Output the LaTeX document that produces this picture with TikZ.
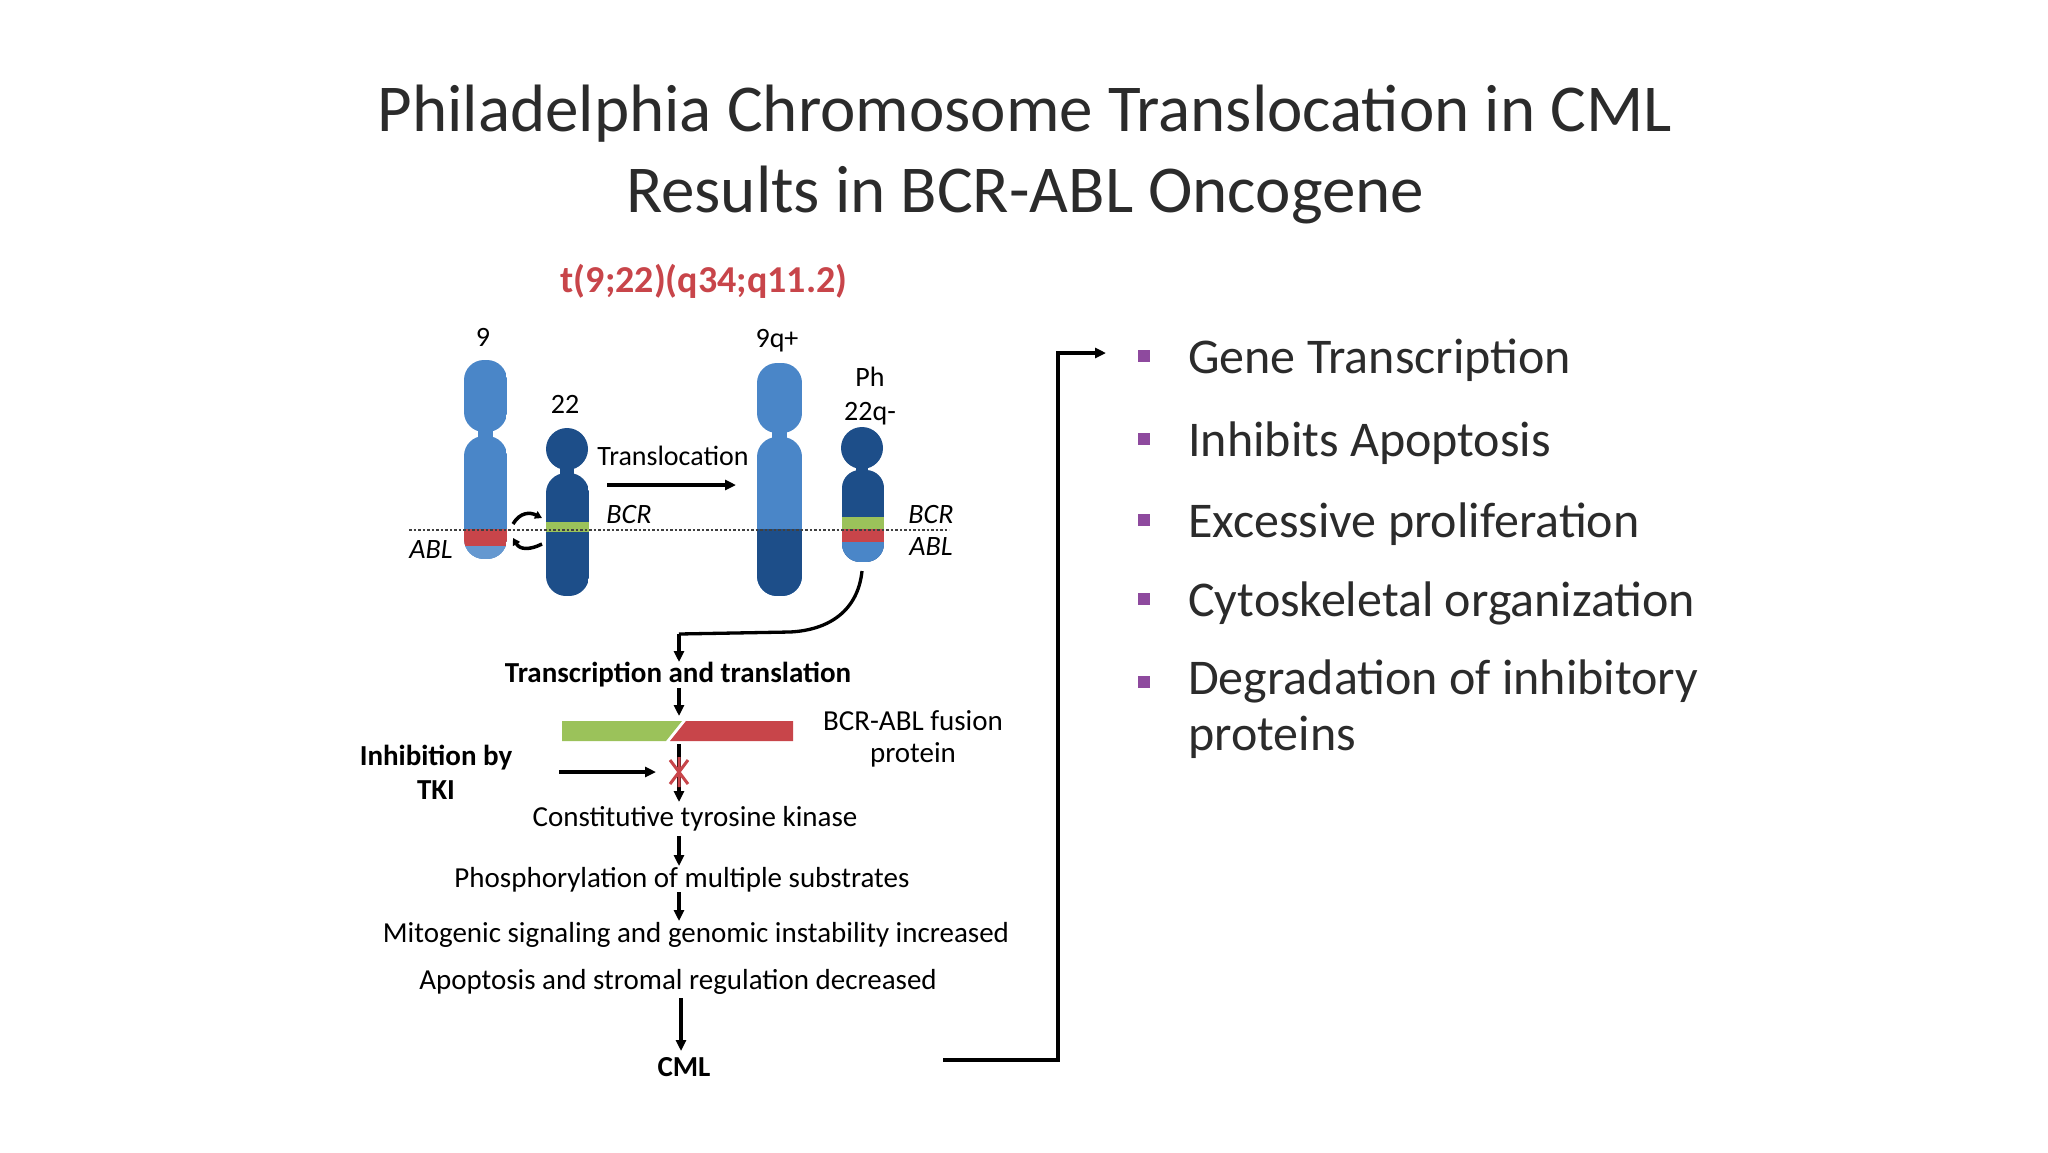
\documentclass[tikz,border=0pt]{standalone}
\usepackage{fontspec}
\setmainfont{Carlito}
\usetikzlibrary{arrows.meta}
\definecolor{lb}{HTML}{4A86C8}
\definecolor{db}{HTML}{1D4E89}
\definecolor{gr}{HTML}{9BC25A}
\definecolor{rd}{HTML}{C8454A}
\definecolor{pu}{HTML}{8E4A9E}
\definecolor{tx}{HTML}{2B2B2B}
\tikzset{
 sm/.style={font=\fontsize{29}{34}\selectfont, text=black, inner sep=1pt},
 smb/.style={sm, font=\fontsize{29}{34}\selectfont\bfseries},
 lab/.style={font=\fontsize{28}{32}\selectfont, text=black, inner sep=1pt},
 bul/.style={font=\fontsize{50}{56}\selectfont, text=tx, anchor=west, inner sep=0pt, align=left},
 arr/.style={-{Triangle[length=11pt,width=10pt]}, line width=3.3pt, black},
 sq/.style={fill=pu, minimum size=12pt, inner sep=0pt},
}
\begin{document}
\begin{tikzpicture}[x=1pt,y=-1pt]
\useasboundingbox (0,0) rectangle (2048,1152);
\fill[white] (0,0) rectangle (2048,1152);
% title
\node[font=\fontsize{67}{81}\selectfont, text=tx, align=center] (title) at (1025,154) {Philadelphia Chromosome Translocation in CML\\Results in BCR-ABL Oncogene};
\node[font=\fontsize{38}{44}\selectfont\bfseries, text=rd] (tt) at (704,281) {t(9;22)(q34;q11.2)};
% chromosome 9
\fill[lb] (478,428) rectangle (493,440);
\begin{scope}\clip[rounded corners=20] (464,360) rectangle (507,432);\fill[lb] (464,360) rectangle (507,432);\end{scope}
\begin{scope}\clip[rounded corners=20] (464,436) rectangle (507,559);
\fill[lb] (464,436) rectangle (507,559);\fill[rd] (464,529) rectangle (507,546);\fill[lb!85!white] (464,546) rectangle (507,559);\end{scope}
% chromosome 22
\fill[db] (560,460) rectangle (574,480);
\fill[db] (567,449) circle (21);
\begin{scope}\clip[rounded corners=20] (546,473) rectangle (589,596);
\fill[db] (546,473) rectangle (589,596);\fill[gr] (546,522) rectangle (589,532);\end{scope}
% 9q+
\fill[lb] (772,428) rectangle (787,442);
\begin{scope}\clip[rounded corners=20] (757,363) rectangle (802,433);\fill[lb] (757,363) rectangle (802,433);\end{scope}
\begin{scope}\clip[rounded corners=20] (757,437) rectangle (802,596);
\fill[lb] (757,437) rectangle (802,596);\fill[db] (757,529) rectangle (802,596);\end{scope}
% Ph
\fill[db] (856,458) rectangle (868,476);
\fill[db] (862,448) circle (21);
\begin{scope}\clip[rounded corners=18] (842,470) rectangle (884,562);
\fill[db] (842,470) rectangle (884,562);\fill[gr] (842,517) rectangle (884,529);\fill[rd] (842,529) rectangle (884,542);\fill[lb] (842,542) rectangle (884,562);\end{scope}
% dotted line
\coordinate (dl) at (409,530); \coordinate (dr) at (949,530);
\draw[dotted, line width=2.5pt, black!75] (dl) -- (dr);
% labels
\node[lab] (l9) at (483,337) {9};
\node[lab] (l22) at (565,404) {22};
\node[lab] (l9q) at (777,341) {9q+};
\node[lab] (lph) at (870,377) {Ph};
\node[lab] (l22q) at (870,414) {22q-};
\node[lab] (trl) at (673,456) {Translocation};
\coordinate (ta) at (607,485); \coordinate (tb) at (736,485);
\draw[arr] (ta) -- (tb);
\node[lab, font=\fontsize{28}{32}\selectfont\itshape] (bcr1) at (629,515) {BCR};
\node[lab, font=\fontsize{28}{32}\selectfont\itshape] (abl1) at (431,550) {ABL};
\node[lab, font=\fontsize{28}{32}\selectfont\itshape] (bcr2) at (931,515) {BCR};
\node[lab, font=\fontsize{28}{32}\selectfont\itshape] (abl2) at (931,547) {ABL};
% small exchange arrows
\coordinate (e1a) at (513,524); \coordinate (e1b) at (542,518);
\draw[-{Triangle[length=7pt,width=8pt]}, line width=3.5pt] (e1a) .. controls (520,512) and (530,512) .. (e1b);
\coordinate (e2a) at (542,544); \coordinate (e2b) at (513,538);
\draw[-{Triangle[length=7pt,width=8pt]}, line width=3.5pt] (e2a) .. controls (530,550) and (520,550) .. (e2b);
% flow
\coordinate (phb) at (862,571); \coordinate (turn) at (679,634);
\node[smb] (tnt) at (678,675) {Transcription and translation};
\draw[arr, -] (phb) .. controls (858,610) and (830,630) .. (790,632) -- (turn);
\draw[arr] (turn) -- (679,662);
% fusion bar
\fill[gr] (562,721) -- (682,721) -- (666,741) -- (562,741) -- cycle;
\fill[rd] (686,721) -- (793,721) -- (793,741) -- (670,741) -- cycle;
\coordinate (barc) at (679,716);
\draw[arr] (679,688) -- (barc);
\node[sm] (fus) at (913,740) {\begin{tabular}{c}BCR-ABL fusion\\[-2pt] protein\end{tabular}};
\node[smb, align=center] (inh) at (436,772) {Inhibition by\\TKI};
\coordinate (xc) at (679,772);
\draw[arr] (559,772) -- (656,772);
\node[sm] (ctk) at (695,819) {Constitutive tyrosine kinase};
\coordinate (ctkt) at (679,802);
\draw[arr] (679,744) -- (ctkt);
\draw[rd, line width=3pt] (xc) ++(-9,-12) -- ++(18,24) (xc) ++(9,-12) -- ++(-18,24) (xc) ++(0,-15) -- ++(0,30);
\node[sm] (phos) at (682,880) {Phosphorylation of multiple substrates};
\draw[arr] (679,836) -- (679,866);
\node[sm] (mito) at (696,935) {Mitogenic signaling and genomic instability increased};
\draw[arr] (679,892) -- (679,921);
\node[sm] (apo) at (678,982) {Apoptosis and stromal regulation decreased};
\node[smb] (cml) at (684,1067) {CML};
\coordinate (cmlt) at (681,1051);
\draw[arr] (681,998) -- (cmlt);
% bracket
\coordinate (b1) at (943,1060); \coordinate (b2) at (1058,1060); \coordinate (b3) at (1058,353); \coordinate (b4) at (1106,353);
\draw[arr] (b1) -- (b2) -- (b3) -- (b4);
% bullets
\foreach \y/\n/\t in {360/g1/Gene Transcription, 443/g2/Inhibits Apoptosis, 524/g3/Excessive proliferation, 603/g4/Cytoskeletal organization}{
 \node[sq] (s\n) at (1144,\y-4) {};
 \node[bul] (\n) at (1188,\y) {\t};
}
\node[sq] (s5) at (1144,682) {};
\node[bul, anchor=north west] (g5) at (1188,660) {Degradation of inhibitory\\proteins};
\end{tikzpicture}
\end{document}
